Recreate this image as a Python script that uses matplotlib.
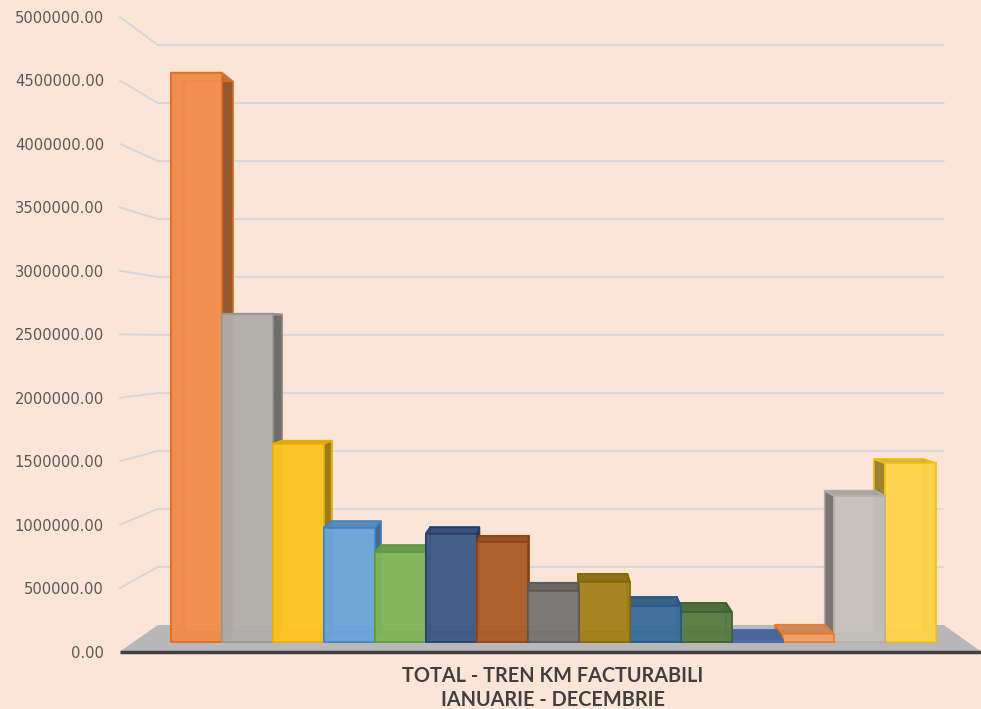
import numpy as np
import matplotlib.pyplot as plt
from matplotlib.patches import Polygon
from matplotlib.colors import to_rgb
from matplotlib.ticker import FuncFormatter

# values (one bar per series)
values = [4630000, 2670000, 1610000, 930000, 730000, 880000, 810000,
          415000, 490000, 295000, 245000, 15000, 62000, 1190000, 1455000]
face_colors = ['#F38F4F', '#B3AFAB', '#FEC526', '#6EA6DA', '#83B65E',
               '#445C88', '#AD602D', '#7A7775', '#A6831F', '#3F6F9C',
               '#5C7D47', '#5877B6', '#F4A36C', '#C5C1BD', '#FFD54C']
edge_colors = ['#E36C1B', '#9A9590', '#E9AE00', '#3F83C4', '#5E9A3A',
               '#233E6B', '#8E420F', '#5A5856', '#876600', '#22568A',
               '#3D5F28', '#4468AE', '#EE7A2A', '#B3AEA9', '#F2BE10']
y_ticks = np.arange(0, 5000001, 500000)
axis_title = 'TOTAL - TREN KM FACTURABILI\nIANUARIE - DECEMBRIE'

bg = '#FBE5D6'

# simple perspective: x in category units, z in value units (front plane)
XV, ZV = 7.6, 2430000          # vanishing point
F_BAR_FRONT, F_BAR_BACK = 0.969, 0.937
F_WALL = 0.914
X_L, X_R = -0.73, 15.61


def proj(x, z, f):
    return (XV + (x - XV) * f, ZV + (z - ZV) * f)


def shade(c, k):
    r, g, b = to_rgb(c)
    return (r * k, g * k, b * k)


fig = plt.figure(figsize=(9.81, 7.09), dpi=100)
fig.patch.set_facecolor(bg)
ax = fig.add_axes([120 / 981, 57.5 / 709, 861 / 981, 634.5 / 709])
ax.set_facecolor(bg)
ax.set_xlim(X_L, 15.63)
ax.set_ylim(0, 5000000)
for s in ax.spines.values():
    s.set_visible(False)

# gridlines: left wall diagonal + back wall horizontal
for v in y_ticks[1:]:
    p1 = proj(X_L, v, F_WALL)
    p2 = proj(X_R, v, F_WALL)
    ax.plot([X_L, p1[0], p2[0]], [v, p1[1], p2[1]], color='#D2D7DD',
            lw=1.3, zorder=1, clip_on=False)

# floor
floor = [proj(X_L, 0, 1), proj(X_R + 0.02, 0, 1), proj(X_R, 0, F_WALL), proj(X_L, 0, F_WALL)]
ax.add_patch(Polygon(floor, closed=True, fc='#B8B8B8', ec='none', zorder=2, clip_on=False))
ax.plot([X_L, 15.63], [-6000, -6000], color='#404040', lw=2.5, zorder=2,
        clip_on=False, solid_capstyle='butt')


def draw_bar(i, v, z0):
    fc, ec = face_colors[i], edge_colors[i]
    x0, x1 = i, i + 1
    ff, fb = F_BAR_FRONT, F_BAR_BACK
    front = [proj(x0, 0, ff), proj(x1, 0, ff), proj(x1, v, ff), proj(x0, v, ff)]
    back = [proj(x0, 0, fb), proj(x1, 0, fb), proj(x1, v, fb), proj(x0, v, fb)]
    left = [proj(x0, 0, ff), proj(x0, 0, fb), proj(x0, v, fb), proj(x0, v, ff)]
    right = [proj(x1, 0, ff), proj(x1, 0, fb), proj(x1, v, fb), proj(x1, v, ff)]
    top = [proj(x0, v, ff), proj(x1, v, ff), proj(x1, v, fb), proj(x0, v, fb)]
    bottom = [proj(x0, 0, ff), proj(x1, 0, ff), proj(x1, 0, fb), proj(x0, 0, fb)]

    if x1 <= XV:
        hidden, visible = [left], [right]
    elif x0 >= XV:
        hidden, visible = [right], [left]
    else:
        hidden, visible = [left, right], []

    faces = [(back, fc), (bottom, shade(fc, 0.9))]
    faces += [(h, shade(fc, 0.88)) for h in hidden]
    faces += [(s, shade(fc, 0.55)) for s in visible]
    faces.append((top, shade(fc, 0.82)))
    faces.append((front, fc))
    for k, (pts, col) in enumerate(faces):
        ax.add_patch(Polygon(pts, closed=True, fc=col, ec=ec, lw=1.2,
                             alpha=0.86, zorder=z0 + k * 0.01))


n = len(values)
left_group = [i for i in range(n) if i + 1 <= XV]
right_group = [i for i in range(n) if i >= XV][::-1]
middle = [i for i in range(n) if i not in left_group and i not in right_group]
order = left_group + right_group + middle
for rank, i in enumerate(order):
    draw_bar(i, values[i], 3 + rank)

ax.set_yticks(y_ticks)
ax.yaxis.set_major_formatter(FuncFormatter(lambda v, _: f'{v:.2f}'))
ax.tick_params(axis='y', length=0, pad=11.5, labelsize=10.6, labelcolor='#595959')
ax.set_xticks([])

ax.set_xlabel(axis_title, fontsize=14.3, fontweight='bold', color='#404040',
              family='Lato', linespacing=1.2, va='center')
ax.xaxis.set_label_coords(0.503, -0.0575)

fig.savefig('out.png', dpi=100, facecolor=bg)
